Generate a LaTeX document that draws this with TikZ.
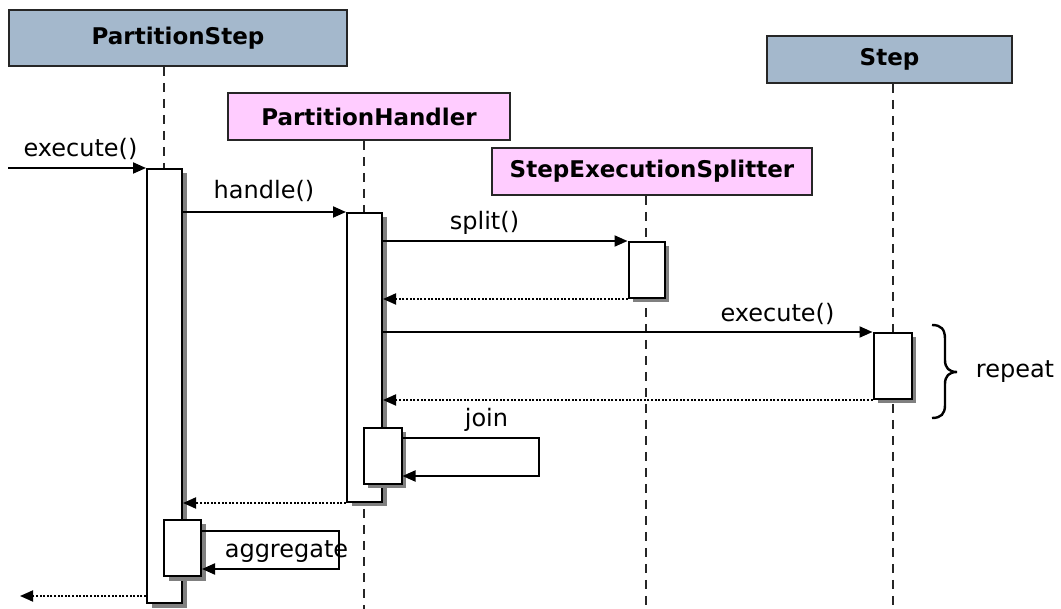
\documentclass[tikz,border=0pt]{standalone}
\usepackage{fontspec}
\setmainfont{DejaVu Sans}
\usetikzlibrary{arrows.meta,shadows,calc}
\definecolor{hdrblue}{HTML}{A4B8CC}
\definecolor{hdrpink}{HTML}{FFCCFF}
\definecolor{shadowgray}{HTML}{808080}
\begin{document}
\begin{tikzpicture}[x=1pt,y=-1pt,
  hdrbox/.style={draw=black!85, line width=1.6pt, inner sep=0pt, font=\fontsize{23}{26}\selectfont\bfseries},
  life/.style={draw=black!85, line width=2.4pt, dash pattern=on 9pt off 7pt},
  actbox/.style={draw=black, fill=white, line width=2pt, inner sep=0pt,
    drop shadow={shadow xshift=4.5pt, shadow yshift=-4.5pt, fill=shadowgray, opacity=1}},
  msg/.style={line width=2pt, -{Triangle[length=13pt,width=11pt]}},
  ret/.style={line width=1.8pt, dash pattern=on 2pt off 1.6pt, -{Triangle[length=13pt,width=11pt]}},
  lbl/.style={anchor=base, inner sep=0pt, font=\fontsize{24}{28}\selectfont}]
\useasboundingbox (0,0) rectangle (1061,609);
% headers
\node[hdrbox, fill=hdrblue, minimum width=338pt, minimum height=56pt] (ps) at (178,38) {PartitionStep};
\node[hdrbox, fill=hdrpink, minimum width=282pt, minimum height=47pt] (ph) at (369,116.5) {PartitionHandler};
\node[hdrbox, fill=hdrpink, minimum width=320pt, minimum height=47pt] (sp) at (652,171.5) {StepExecutionSplitter};
\node[hdrbox, fill=hdrblue, minimum width=245pt, minimum height=47pt] (st) at (889.5,59.5) {Step};
% lifelines
\coordinate (ps0) at (164,609);
\coordinate (ph0) at (364,609);
\coordinate (sp0) at (646,609);
\coordinate (st0) at (893,609);
\draw[life] (ps.south -| ps0) -- (ps0);
\draw[life] (ph.south -| ph0) -- (ph0);
\draw[life] (sp.south -| sp0) -- (sp0);
\draw[life] (st.south -| st0) -- (st0);
% activation boxes
\node[actbox, minimum width=35pt, minimum height=434pt] (a1) at (164.5,386) {};
\node[actbox, minimum width=35pt, minimum height=289pt] (a2) at (364.5,357.5) {};
\node[actbox, minimum width=36pt, minimum height=56pt] (a3) at (646.5,270) {};
\node[actbox, minimum width=38pt, minimum height=66pt] (a4) at (892.5,366) {};
\node[actbox, minimum width=38pt, minimum height=56pt] (jb) at (382.5,456) {};
\node[actbox, minimum width=37pt, minimum height=56pt] (ag) at (182.5,548) {};
% messages
\coordinate (src) at (8,168);
\coordinate (dst) at (20,596);
\draw[msg] (src) -- (src -| a1.west);
\node[lbl] (l1) at (80.5,157) {execute()};
\draw[msg] (a1.east |- a2.north) -- (a2.north west);
\node[lbl] (l2) at (264,199) {handle()};
\draw[msg] (a2.east |- a3.north) -- (a3.north west);
\node[lbl] (l3) at (484.5,230) {split()};
\draw[ret] (a3.south west) -- (a3.south west -| a2.east);
\draw[msg] (a2.east |- a4.north) -- (a4.north west);
\node[lbl] (l4) at (777.5,322) {execute()};
\draw[ret] (a4.south west) -- (a4.south west -| a2.east);
\coordinate (jc1) at (539,438);
\coordinate (jc2) at (539,476);
\draw[msg] (jb.east |- jc1) -- (jc1) -- (jc2) -- (jb.east |- jc2);
\node[lbl] (l5) at (486.5,427) {join};
\draw[ret] (a2.south west) -- (a2.south west -| a1.east);
\coordinate (ac1) at (339,531);
\coordinate (ac2) at (339,569);
\draw[msg] (ag.east |- ac1) -- (ac1) -- (ac2) -- (ag.east |- ac2);
\node[lbl] (l6) at (286.5,558) {aggregate};
\draw[ret] (a1.west |- dst) -- (dst);
% repeat brace
\draw[line width=2.4pt] (932,325) .. controls (941,325) and (945,329) .. (945,339) -- (945,360)
  .. controls (945,368) and (949,372) .. (957,372)
  .. controls (949,372) and (945,376) .. (945,384) -- (945,405)
  .. controls (945,414) and (941,418) .. (932,418);
\node[lbl] (l7) at (1015,378) {repeat};
\end{tikzpicture}
\end{document}
